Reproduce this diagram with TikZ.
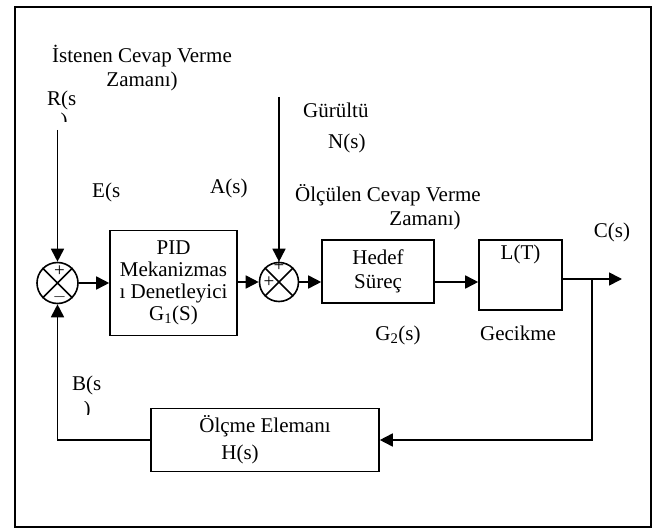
\documentclass[tikz,border=0pt]{standalone}
\usepackage{fontspec}
\setmainfont{Liberation Serif}
\usetikzlibrary{arrows.meta, positioning, calc}

\begin{document}
\begin{tikzpicture}[
    x=1pt, y=-1pt,
    every node/.style={font=\fontsize{21}{22}\selectfont, inner sep=0pt},
    block/.style={draw, line width=1.6pt, align=center},
    sum/.style={draw, circle, line width=1.6pt, minimum size=41pt},
    sig/.style={-{Triangle[length=13pt, width=13pt]}, line width=1.7pt},
    wire/.style={line width=1.6pt},
    sign/.style={font=\fontsize{19}{19}\selectfont}
]
    \useasboundingbox (0,0) rectangle (658,529);
    \draw[line width=1.7pt] (15,7) rectangle (651,527);

    % blocks
    \node[block, minimum width=127pt, minimum height=105pt] (pid) at (173.5,283) {PID\\Mekanizmas\\ı Denetleyici\\G\textsubscript{1}(S)};
    \node[block, minimum width=112pt, minimum height=63pt] (hedef) at (378,271.5) {Hedef\\[2pt]Süreç};
    \node[block, minimum width=83pt, minimum height=70pt] (lt) at (520.5,275) {};
    \node (ltx) at ($(lt.north)+(0,15)$) {L(T)};
    \node[block, minimum width=228pt, minimum height=63pt, align=left] (hbox) at (265,440) {Ölçme Elemanı\\[5pt]\hspace*{22pt}H(s)};

    % summing points
    \node[sum] (s1) at (57.5,283) {};
    \node[sum, minimum size=39pt] (s2) at (279,282) {};
    \draw[wire] (s1.north west) -- (s1.south east) (s1.north east) -- (s1.south west);
    \draw[wire] (s2.north west) -- (s2.south east) (s2.north east) -- (s2.south west);
    \node[sign] (p1) at ($(s1)+(2,-12)$) {+};
    \node[sign] (m1) at ($(s1)+(2,14)$) {$-$};
    \node[sign] (p2) at ($(s2)+(0,-16)$) {+};
    \node[sign] (p3) at ($(s2)+(-10,0)$) {+};

    \coordinate (rin) at (57.5,130);
    \coordinate (nin) at (279,97);
    \coordinate (br) at (592,279);
    \coordinate (cout) at (622,279);

    \draw[sig] (rin) -- (s1.north);
    \draw[sig] (s1.east) -- (pid.west);
    \draw[sig] (pid.east |- s2) -- (s2.west);
    \draw[sig] (nin) -- (s2.north);
    \draw[sig] (s2.east) -- (hedef.west |- s2);
    \draw[sig] (hedef.east |- s2) -- (lt.west |- s2);
    \draw[sig] (lt.east |- cout) -- (cout);
    \draw[sig] (br) |- (hbox.east);
    \draw[sig] (hbox.west) -| (s1.south);

    % labels
    \node[anchor=west] (ist) at (52,56) {İstenen Cevap Verme};
    \node (zam1) at (142,81) {Zamanı)};
    \node[anchor=west] (rs) at (47,100) {R(s};
    \node[anchor=west] (es) at (92,192) {E(s};
    \node[anchor=west] (as) at (210,188) {A(s)};
    \node[anchor=west] (gur) at (303,110) {Gürültü};
    \node[anchor=west] (ns) at (328,143) {N(s)};
    \node[anchor=west] (olc) at (295,195) {Ölçülen Cevap Verme};
    \node (zam2) at (425,220) {Zamanı)};
    \node (cs) at (612,232) {C(s)};
    \node (g2) at (398,335) {G\textsubscript{2}(s)};
    \node (gec) at (518,333) {Gecikme};
    \node[anchor=west] (bs) at (72,385) {B(s};

    \begin{scope}
        \clip (55,113) rectangle (75,122);
        \node[anchor=north] (rparR) at (64,113) {)};
    \end{scope}
    \begin{scope}
        \clip (78,401) rectangle (96,414);
        \node[anchor=north] (rparB) at (87,401) {)};
    \end{scope}
\end{tikzpicture}
\end{document}
